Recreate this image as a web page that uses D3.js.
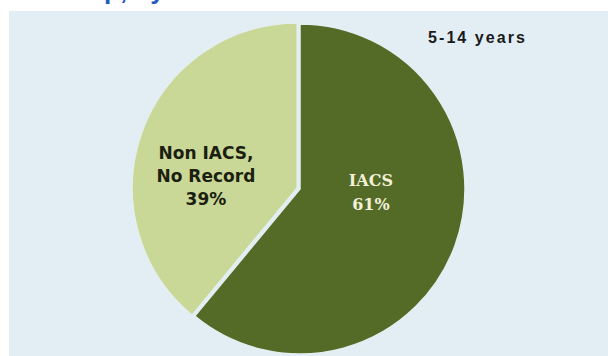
<!DOCTYPE html>
<html>
<head>
<meta charset="utf-8">
<script src="https://cdn.jsdelivr.net/npm/d3@7"></script>
<style>
  html, body { margin: 0; padding: 0; background: #ffffff; }
  svg { display: block; }
</style>
</head>
<body>
<svg id="chart" width="608" height="356"></svg>
<script>
// ---- data ----
const categories = ["IACS", "Non IACS, No Record"];
const values = [61, 39];
const labelLines = [["IACS", "61%"], ["Non IACS,", "No Record", "39%"]];
const subtitle = "5-14 years";
const titleText = "Group, by";

// ---- layout ----
const W = 608, H = 356;
const cx = 300, cy = 189, R = 165;
const explode = [0, 3];
const colors = ["#546b27", "#c9d897"];
const textColors = ["#f2f0d8", "#1c1f10"];
// label anchors in polar terms (angle in degrees clockwise from top, radius)
const labelPolar = [[93, 71], [278, 95]];

const svg = d3.select("#chart");

// top title (cropped, only descenders visible)
svg.append("text")
  .attr("x", 42).attr("y", -1.5)
  .attr("font-family", "Liberation Sans, Arial, sans-serif")
  .attr("font-weight", "bold")
  .attr("font-size", 26)
  .attr("fill", "#1f5cc0")
  .text(titleText);

// panel
svg.append("rect")
  .attr("x", 9).attr("y", 11)
  .attr("width", W - 9).attr("height", H - 11)
  .attr("fill", "#e2eef4");

const pie = d3.pie().sort(null).startAngle(0).endAngle(2 * Math.PI);
const arcs = pie(values);
const arc = d3.arc().innerRadius(0).outerRadius(R);

const g = svg.append("g").attr("transform", `translate(${cx},${cy})`);

g.selectAll("path.slice")
  .data(arcs)
  .join("path")
  .attr("class", "slice")
  .attr("d", arc)
  .attr("fill", (d, i) => colors[i])
  .attr("stroke", "#e4eef0")
  .attr("stroke-width", 1.5)
  .attr("transform", (d, i) => {
    const mid = (d.startAngle + d.endAngle) / 2;
    return `translate(${Math.sin(mid) * explode[i]},${-Math.cos(mid) * explode[i]})`;
  });

// labels
const labelG = g.selectAll("g.label")
  .data(arcs)
  .join("g")
  .attr("class", "label")
  .attr("transform", (d, i) => {
    const a = labelPolar[i][0] * Math.PI / 180, r = labelPolar[i][1];
    return `translate(${Math.sin(a) * r},${-Math.cos(a) * r})`;
  });

labelG.each(function (d, i) {
  const lines = labelLines[i];
  const lh = i === 0 ? 24 : 23;
  const t = d3.select(this).append("text")
    .attr("text-anchor", "middle")
    .attr("fill", textColors[i])
    .attr("font-family", i === 0 ? "DejaVu Serif, serif" : "DejaVu Sans, Verdana, sans-serif")
    .attr("font-weight", "bold")
    .attr("font-size", i === 0 ? 16 : 17);
  lines.forEach((ln, k) => {
    t.append("tspan")
      .attr("x", 0)
      .attr("y", (k - (lines.length - 1) / 2) * lh)
      .attr("dy", "0.35em")
      .text(ln);
  });
});

// subtitle
svg.append("text")
  .attr("x", 428).attr("y", 43)
  .attr("font-family", "Liberation Sans, Arial, sans-serif")
  .attr("font-weight", "bold")
  .attr("font-size", 16)
  .attr("textLength", 97)
  .attr("lengthAdjust", "spacing")
  .attr("fill", "#1a1a1a")
  .text(subtitle);
</script>
</body>
</html>
